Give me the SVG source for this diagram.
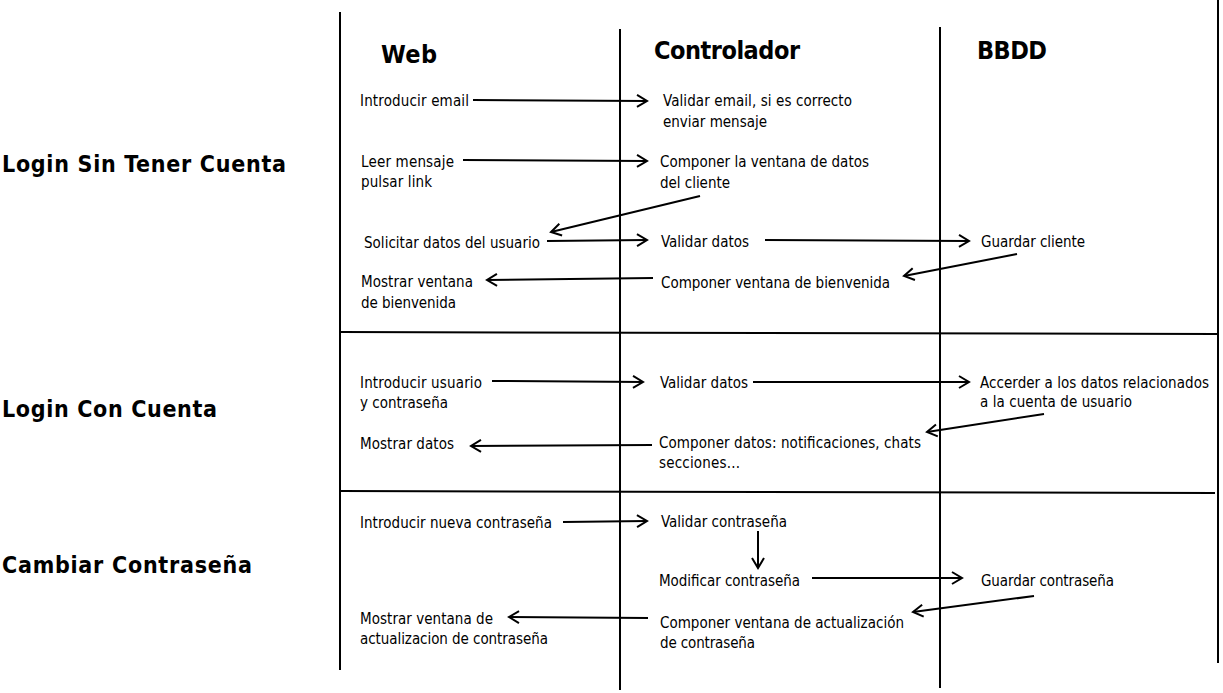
<svg xmlns="http://www.w3.org/2000/svg" width="1223" height="693" viewBox="0 0 1223 693">
<style>
.t{font-family:"DejaVu Sans Condensed","DejaVu Sans",sans-serif;font-size:15px;fill:#000}
.h{font-family:"DejaVu Sans Condensed","DejaVu Sans",sans-serif;font-weight:bold;font-size:25px;fill:#000}
.s{font-family:"DejaVu Sans Condensed","DejaVu Sans",sans-serif;font-weight:bold;font-size:23px;fill:#000}
.grid line{stroke:#000;stroke-width:2}
.c line{stroke:#000;stroke-width:2;fill:none;marker-end:url(#a)}
</style>
<defs>
<marker id="a" markerUnits="userSpaceOnUse" markerWidth="16" markerHeight="16" viewBox="0 0 16 16" refX="13" refY="8" orient="auto">
<path d="M3,2 L13,8 L3,14" fill="none" stroke="#000" stroke-width="2"/>
</marker>
</defs>
<rect width="1223" height="693" fill="#fff"/>
<g id="grid" class="grid">
<line x1="340" y1="12" x2="340" y2="670"/>
<line x1="620" y1="29" x2="620" y2="690"/>
<line x1="940" y1="27" x2="940" y2="688"/>
<line x1="1218" y1="0" x2="1218" y2="663"/>
<line x1="340" y1="332" x2="1217" y2="334"/>
<line x1="340" y1="491" x2="1215" y2="493"/>
</g>
<g id="headers">
<text class="h" x="381" y="63" textLength="56">Web</text>
<text class="h" x="654" y="59" textLength="146">Controlador</text>
<text class="h" x="977" y="59" textLength="70">BBDD</text>
</g>
<g id="sections">
<text class="s" x="2" y="172" textLength="284">Login Sin Tener Cuenta</text>
<text class="s" x="2" y="417" textLength="215">Login Con Cuenta</text>
<text class="s" x="2" y="573" textLength="250">Cambiar Contraseña</text>
</g>
<g id="n1"><text class="t" x="360" y="106" textLength="109">Introducir email</text></g>
<g id="n2"><text class="t" x="663" y="106" textLength="189">Validar email, si es correcto</text><text class="t" x="663" y="127" textLength="104">enviar mensaje</text></g>
<g id="n3"><text class="t" x="361" y="167" textLength="93">Leer mensaje</text><text class="t" x="361" y="187" textLength="71">pulsar link</text></g>
<g id="n4"><text class="t" x="660" y="167" textLength="209">Componer la ventana de datos</text><text class="t" x="660" y="188" textLength="70">del cliente</text></g>
<g id="n5"><text class="t" x="364" y="248" textLength="176">Solicitar datos del usuario</text></g>
<g id="n6"><text class="t" x="661" y="247" textLength="88">Validar datos</text></g>
<g id="n7"><text class="t" x="981" y="247" textLength="104">Guardar cliente</text></g>
<g id="n8"><text class="t" x="661" y="288" textLength="229">Componer ventana de bienvenida</text></g>
<g id="n9"><text class="t" x="361" y="287" textLength="112">Mostrar ventana</text><text class="t" x="361" y="308" textLength="95">de bienvenida</text></g>
<g id="n10"><text class="t" x="360" y="388" textLength="122">Introducir usuario</text><text class="t" x="360" y="408" textLength="88">y contraseña</text></g>
<g id="n11"><text class="t" x="660" y="388" textLength="88">Validar datos</text></g>
<g id="n12"><text class="t" x="980" y="388" textLength="229">Accerder a los datos relacionados</text><text class="t" x="980" y="407" textLength="152">a la cuenta de usuario</text></g>
<g id="n13"><text class="t" x="659" y="448" textLength="262">Componer datos: notificaciones, chats</text><text class="t" x="659" y="468" textLength="81">secciones...</text></g>
<g id="n14"><text class="t" x="360" y="449" textLength="94">Mostrar datos</text></g>
<g id="n15"><text class="t" x="360" y="528" textLength="192">Introducir nueva contraseña</text></g>
<g id="n16"><text class="t" x="661" y="527" textLength="126">Validar contraseña</text></g>
<g id="n17"><text class="t" x="659" y="586" textLength="141">Modificar contraseña</text></g>
<g id="n18"><text class="t" x="981" y="586" textLength="133">Guardar contraseña</text></g>
<g id="n19"><text class="t" x="660" y="628" textLength="244">Componer ventana de actualización</text><text class="t" x="660" y="648" textLength="95">de contraseña</text></g>
<g id="n20"><text class="t" x="360" y="624" textLength="133">Mostrar ventana de</text><text class="t" x="360" y="644" textLength="188">actualizacion de contraseña</text></g>
<g id="connectors" class="c">
<line x1="473" y1="100" x2="647" y2="101"/>
<line x1="463" y1="160" x2="647" y2="161"/>
<line x1="700" y1="196" x2="551" y2="232"/>
<line x1="547" y1="241" x2="647" y2="240"/>
<line x1="765" y1="240" x2="969" y2="241"/>
<line x1="1017" y1="254" x2="904" y2="276"/>
<line x1="653" y1="278" x2="487" y2="280"/>
<line x1="492" y1="381" x2="643" y2="382"/>
<line x1="753" y1="382" x2="969" y2="382"/>
<line x1="1044" y1="414" x2="927" y2="432"/>
<line x1="652" y1="445" x2="471" y2="446"/>
<line x1="563" y1="522" x2="647" y2="521"/>
<line x1="758" y1="531" x2="758" y2="568"/>
<line x1="812" y1="578" x2="962" y2="578"/>
<line x1="1034" y1="596" x2="913" y2="612"/>
<line x1="648" y1="618" x2="509" y2="617"/>
</g>
</svg>
